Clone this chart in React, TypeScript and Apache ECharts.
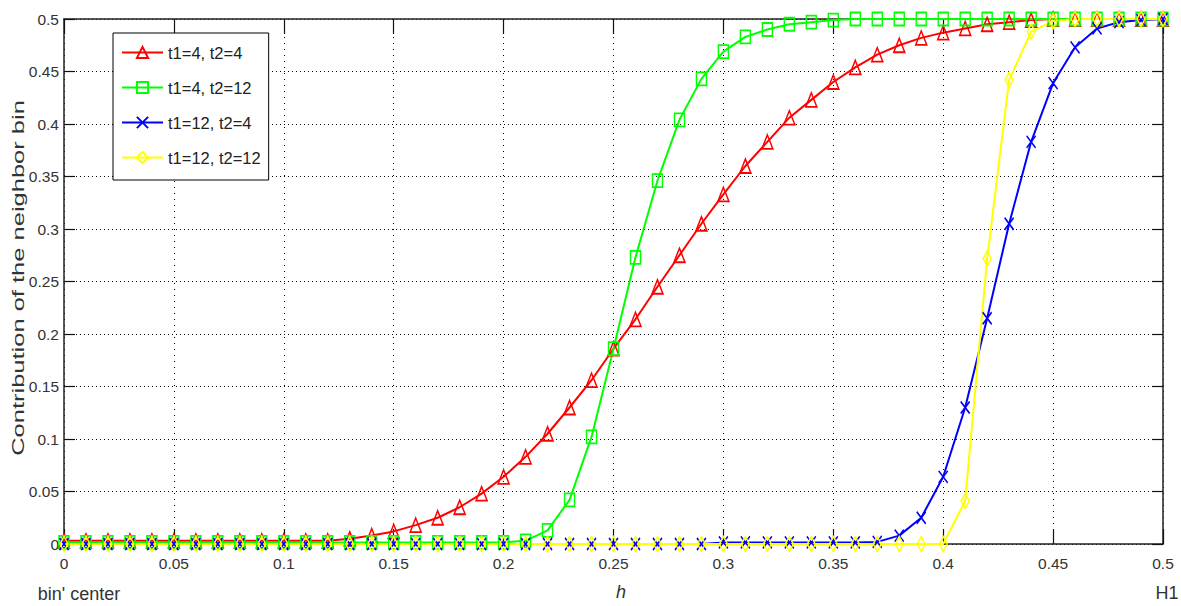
import React, { useEffect, useRef } from "react";
import * as echarts from "echarts";

const xValues = [
  0.0, 0.01, 0.02, 0.03, 0.04, 0.05, 0.06, 0.07, 0.08, 0.09,
  0.1, 0.11, 0.12, 0.13, 0.14, 0.15, 0.16, 0.17, 0.18, 0.19,
  0.2, 0.21, 0.22, 0.23, 0.24, 0.25, 0.26, 0.27, 0.28, 0.29,
  0.3, 0.31, 0.32, 0.33, 0.34, 0.35, 0.36, 0.37, 0.38, 0.39,
  0.4, 0.41, 0.42, 0.43, 0.44, 0.45, 0.46, 0.47, 0.48, 0.49, 0.5,
];

// t1=4, t2=4
const red = [
  0.003, 0.003, 0.003, 0.003, 0.003, 0.003, 0.003, 0.003, 0.003, 0.003,
  0.003, 0.003, 0.003, 0.005, 0.008, 0.012, 0.018, 0.025, 0.035, 0.048,
  0.064, 0.083, 0.105, 0.13, 0.156, 0.186, 0.214, 0.245, 0.275, 0.305,
  0.333, 0.36, 0.383, 0.406, 0.423, 0.44, 0.454, 0.466, 0.475, 0.482,
  0.487, 0.491, 0.495, 0.497, 0.499, 0.5, 0.5, 0.5, 0.5, 0.5, 0.5,
];

// t1=4, t2=12
const green = [
  0.0015, 0.0015, 0.0015, 0.0015, 0.0015, 0.0015, 0.0015, 0.0015, 0.0015, 0.0015,
  0.0015, 0.0015, 0.0015, 0.0015, 0.0015, 0.0015, 0.0015, 0.0015, 0.0015, 0.0015,
  0.0015, 0.003, 0.013, 0.042, 0.102, 0.186, 0.273, 0.346, 0.404, 0.443,
  0.469, 0.483, 0.49, 0.495, 0.497, 0.499, 0.5, 0.5, 0.5, 0.5,
  0.5, 0.5, 0.5, 0.5, 0.5, 0.5, 0.5, 0.5, 0.5, 0.5, 0.5,
];

// t1=12, t2=4
const blue = [
  0, 0, 0, 0, 0, 0, 0, 0, 0, 0,
  0, 0, 0, 0, 0, 0, 0, 0, 0, 0,
  0, 0, 0, 0, 0, 0, 0, 0, 0, 0,
  0.0015, 0.0015, 0.0015, 0.0015, 0.0015, 0.0015, 0.0015, 0.002, 0.008, 0.025,
  0.064, 0.13, 0.215, 0.305, 0.383, 0.439, 0.473, 0.491, 0.497, 0.499, 0.5,
];

// t1=12, t2=12
const yellow = [
  0, 0, 0, 0, 0, 0, 0, 0, 0, 0,
  0, 0, 0, 0, 0, 0, 0, 0, 0, 0,
  0, 0, 0, 0, 0, 0, 0, 0, 0, 0,
  0, 0, 0, 0, 0, 0, 0, 0, 0, 0,
  0, 0.041, 0.272, 0.442, 0.488, 0.498, 0.5, 0.5, 0.5, 0.5, 0.5,
];

const seriesNames = ["t1=4, t2=4", "t1=4, t2=12", "t1=12, t2=4", "t1=12, t2=12"];
const xTickLabels = ["0", "0.05", "0.1", "0.15", "0.2", "0.25", "0.3", "0.35", "0.4", "0.45", "0.5"];
const yTickLabels = ["0", "0.05", "0.1", "0.15", "0.2", "0.25", "0.3", "0.35", "0.4", "0.45", "0.5"];
const yTitle = "Contribution of the neighbor bin";
const xLeftLabel = "bin' center";
const xMidLabel = "h";
const xRightLabel = "H1";

const SANS = "'Liberation Sans', Arial, sans-serif";

function pairs(ys: number[]) {
  return xValues.map((x, i) => [x, ys[i]]);
}

export default function App() {
  const ref = useRef<HTMLDivElement>(null);
  useEffect(() => {
    document.body.style.margin = "0";
    if (!ref.current) return;
    const chart = echarts.init(ref.current, undefined, { renderer: "svg" });
    const tickFmt = (labels: string[]) => (v: number) => {
      const i = Math.round(v / 0.05);
      return labels[i] ?? "";
    };
    const xCommon = {
      type: "value" as const,
      min: 0,
      max: 0.5,
      interval: 0.05,
      axisLine: { show: true, onZero: false, lineStyle: { color: "#222", width: 1.5 } },
      axisTick: { show: true, inside: true, length: 15, lineStyle: { color: "#111", width: 1.2 } },
    };
    const yCommon = {
      type: "value" as const,
      min: 0,
      max: 0.5,
      interval: 0.05,
      axisLine: { show: true, onZero: false, lineStyle: { color: "#222", width: 1.5 } },
      axisTick: { show: true, inside: true, length: 11, lineStyle: { color: "#111", width: 1.2 } },
    };
    const mk = (
      name: string,
      ys: number[],
      color: string,
      symbol: string,
      size: number[]
    ) => ({
      name,
      type: "line",
      data: pairs(ys),
      symbol,
      symbolSize: size,
      showSymbol: true,
      showAllSymbol: true,
      clip: false,
      lineStyle: { color, width: 2 },
      itemStyle: { color: "rgba(255,255,255,0)", borderColor: color, borderWidth: 1.6 },
      emphasis: { disabled: true },
    });
    chart.setOption({
      animation: false,
      backgroundColor: "#fff",
      grid: { left: 64, right: 18, top: 19, bottom: 62 },
      legend: {
        left: 113,
        top: 33,
        orient: "vertical",
        padding: [11, 8, 14, 8],
        itemGap: 18,
        itemWidth: 41,
        itemHeight: 14,
        borderColor: "#000",
        borderWidth: 1,
        backgroundColor: "#fff",
        textStyle: { fontFamily: SANS, fontSize: 16.5, color: "#222" },
        data: seriesNames,
      },
      xAxis: [
        {
          ...xCommon,
          position: "bottom",
          axisLabel: {
            margin: 11,
            fontFamily: SANS,
            fontSize: 15.5,
            color: "#333",
            formatter: tickFmt(xTickLabels),
          },
          splitLine: { show: true, lineStyle: { color: "#000", type: [1, 5], width: 1 } },
        },
        {
          ...xCommon,
          position: "top",
          axisLabel: { show: false },
          splitLine: { show: false },
        },
      ],
      yAxis: [
        {
          ...yCommon,
          position: "left",
          axisLabel: {
            margin: 5,
            fontFamily: SANS,
            fontSize: 15.5,
            color: "#333",
            formatter: tickFmt(yTickLabels),
          },
          splitLine: { show: true, lineStyle: { color: "#000", type: [1, 3], width: 1 } },
        },
        {
          ...yCommon,
          position: "right",
          axisLabel: { show: false },
          splitLine: { show: false },
        },
      ],
      series: [
        mk(seriesNames[0], red, "#ff0000", "triangle", [11, 14]),
        mk(seriesNames[1], green, "#00ff00", "rect", [10, 13]),
        mk(seriesNames[2], blue, "#0000ff", "path://M0,0L10,10M10,0L0,10", [9, 12]),
        mk(seriesNames[3], yellow, "#ffff00", "diamond", [8, 15]),
      ],
      graphic: [
        {
          type: "text",
          x: 18,
          y: 278,
          rotation: Math.PI / 2,
          scaleX: 1.5,
          style: {
            text: yTitle,
            fontFamily: SANS,
            fontSize: 17,
            fill: "#333",
            align: "center",
            verticalAlign: "middle",
          },
        },
        {
          type: "text",
          x: 79,
          y: 594,
          style: {
            text: xLeftLabel,
            fontFamily: SANS,
            fontSize: 18,
            fill: "#333",
            align: "center",
            verticalAlign: "middle",
          },
        },
        {
          type: "text",
          x: 621,
          y: 592,
          style: {
            text: xMidLabel,
            fontFamily: SANS,
            fontStyle: "italic",
            fontSize: 18,
            fill: "#333",
            align: "center",
            verticalAlign: "middle",
          },
        },
        {
          type: "text",
          x: 1167,
          y: 593,
          style: {
            text: xRightLabel,
            fontFamily: SANS,
            fontSize: 18,
            fill: "#333",
            align: "center",
            verticalAlign: "middle",
          },
        },
      ],
    });
    return () => chart.dispose();
  }, []);
  return <div ref={ref} style={{ width: 1181, height: 606 }} />;
}
